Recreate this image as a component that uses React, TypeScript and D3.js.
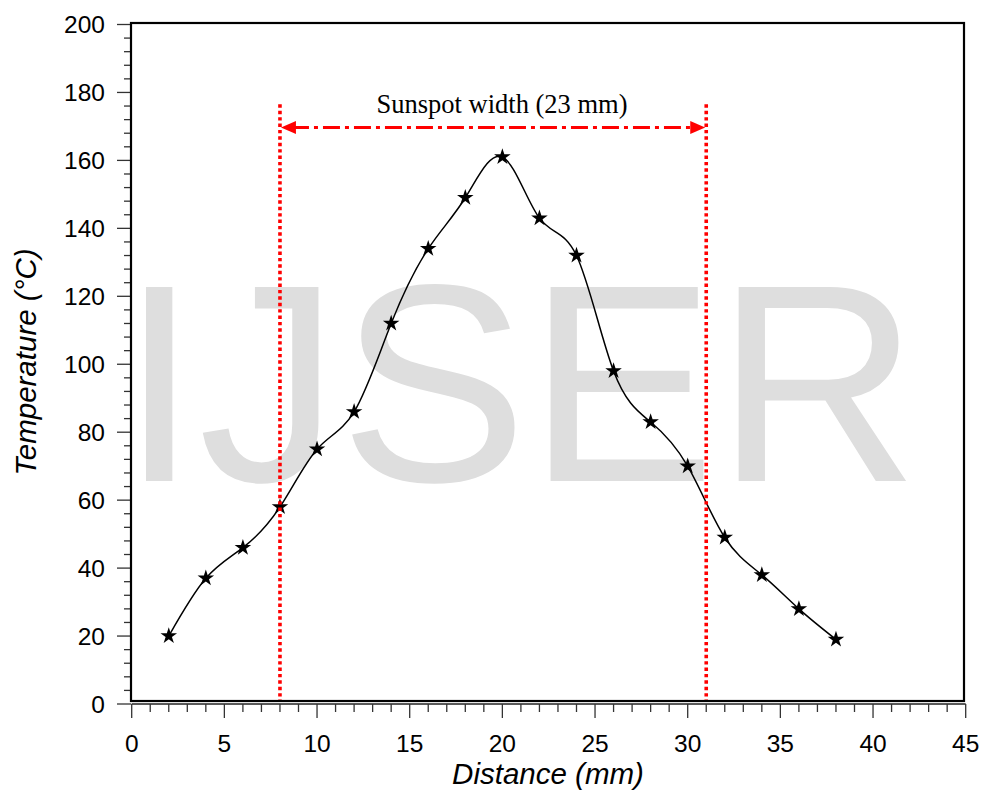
import React from "react";
import * as d3 from "d3";

const distances = [2, 4, 6, 8, 10, 12, 14, 16, 18, 20, 22, 24, 26, 28, 30, 32, 34, 36, 38];
const temperatures = [20, 37, 46, 58, 75, 86, 112, 134, 149, 161, 143, 132, 98, 83, 70, 49, 38, 28, 19];
const xTicks = [0, 5, 10, 15, 20, 25, 30, 35, 40, 45];
const yTicks = [0, 20, 40, 60, 80, 100, 120, 140, 160, 180, 200];
const sunspotEdges = [8, 31];
const sunspotLabel = "Sunspot width (23 mm)";
const arrowLevel = 169.7;
const lineTop = 176.5;

export default function App() {
  const W = 982, H = 791;
  const x = d3.scaleLinear().domain([0, 45]).range([131.7, 965.7]);
  const y = d3.scaleLinear().domain([0, 200]).range([704, 24.5]);
  const frame = { l: 131, r: 964, t: 23, b: 701 };

  const pts = distances.map((d, i) => [x(d), y(temperatures[i])] as [number, number]);
  const line = d3.line().curve(d3.curveNatural)(pts) || "";
  const star = d3.symbol().type(d3.symbolStar).size(85)() || "";

  const xMinor = d3.range(0, 46, 1);
  const yMinor = d3.range(0, 201, 4);

  const ax = y(arrowLevel);
  const x1 = x(sunspotEdges[0]);
  const x2 = x(sunspotEdges[1]);
  const font = "Arial, 'Liberation Sans', sans-serif";

  return (
    <svg width={W} height={H} style={{ position: "absolute", left: 0, top: 0 }}>
      <rect x={0} y={0} width={W} height={H} fill="#fff" />
      <text x={120} y={481} fontFamily={font} fontSize={282} fill="#dedede">IJSER</text>

      {/* axes ticks */}
      <line x1={x(0)} x2={x(45)} y1={704} y2={704} stroke="#222" strokeWidth={1.5} />
      {xMinor.map((v) => (
        <line key={"xm" + v} x1={x(v)} x2={x(v)} y1={704} y2={v % 5 === 0 ? 718 : 712} stroke="#333" strokeWidth={1.3} />
      ))}
      {yMinor.map((v) => (
        <line key={"ym" + v} x1={v % 20 === 0 ? 117 : 124} x2={131} y1={y(v)} y2={y(v)} stroke="#333" strokeWidth={1.3} />
      ))}
      {xTicks.map((v) => (
        <text key={"xt" + v} x={x(v)} y={752} textAnchor="middle" fontFamily={font} fontSize={24.5} fill="#000">{v}</text>
      ))}
      {yTicks.map((v) => (
        <text key={"yt" + v} x={105} y={y(v) + 8.5} textAnchor="end" fontFamily={font} fontSize={24.5} fill="#000">{v}</text>
      ))}
      <text x={548} y={784} textAnchor="middle" fontFamily={font} fontSize={29.5} fontStyle="italic">Distance (mm)</text>
      <text transform={`translate(36,362) rotate(-90)`} textAnchor="middle" fontFamily={font} fontSize={29.5} fontStyle="italic">Temperature (°C)</text>

      {/* data */}
      <path d={line} fill="none" stroke="#000" strokeWidth={1.5} />
      {pts.map((p, i) => (
        <path key={"s" + i} d={star} transform={`translate(${p[0]},${p[1]})`} fill="#000" />
      ))}

      {/* sunspot annotation */}
      {sunspotEdges.map((e) => (
        <line key={"e" + e} x1={x(e)} x2={x(e)} y1={y(lineTop)} y2={frame.b} stroke="#ff0000" strokeWidth={3.6} strokeDasharray="3.4 3" />
      ))}
      <line x1={x1 + 12} x2={x2 - 12} y1={ax} y2={ax} stroke="#ff0000" strokeWidth={3} strokeDasharray="17 5 4 5" />
      <path d={`M${x1 + 1},${ax} L${x1 + 16},${ax - 6.5} L${x1 + 16},${ax + 6.5} Z`} fill="#ff0000" />
      <path d={`M${x2 - 1},${ax} L${x2 - 16},${ax - 6.5} L${x2 - 16},${ax + 6.5} Z`} fill="#ff0000" />
      <text x={502} y={113} textAnchor="middle" fontFamily="'Liberation Serif', 'Times New Roman', serif" fontSize={26.5}>{sunspotLabel}</text>

      <rect x={frame.l} y={frame.t} width={frame.r - frame.l} height={frame.b - frame.t} fill="none" stroke="#000" strokeWidth={2.2} />
    </svg>
  );
}
